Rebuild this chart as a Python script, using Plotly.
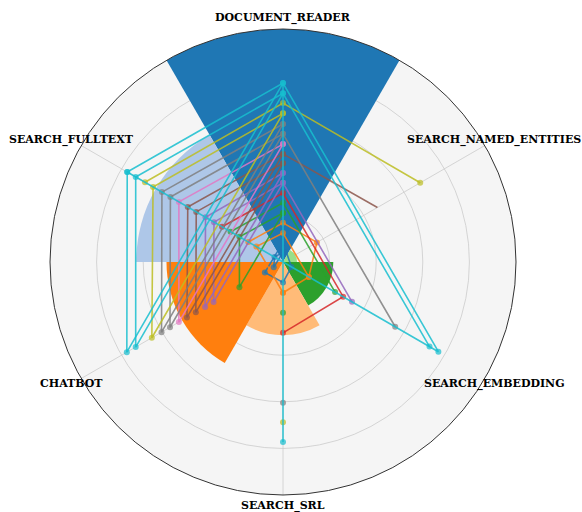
import plotly.graph_objects as go
import math

# ---------------- data ----------------
categories = ["DOCUMENT_READER", "SEARCH_NAMED_ENTITIES", "SEARCH_EMBEDDING",
              "SEARCH_SRL", "CHATBOT", "SEARCH_FULLTEXT"]
cat_codes = ["DR", "SNE", "SE", "SRL", "CB", "SF"]
cat_angles = [90, 30, 330, 270, 210, 150]

bar_values = [5.0, 0.3, 1.08, 1.57, 2.5, 3.15]
bar_colors = ["#1f77b4", "#98df8a", "#2ca02c", "#ffbb78", "#ff7f0e", "#aec7e8"]

# each series: path through categories ("O" = centre, None = break)
blue1_cats = ["DR", "SE", "SRL", "CB", "DR"]
blue1_vals = [0.42, 0.21, 0.44, 0.45, 0.42]
blue2_cats = ["DR", "SF", "CB", "DR"]
blue2_vals = [0.21, 0.21, 0.23, 0.21]
orange1_cats = ["SF", "DR", "SNE", "SE"]
orange1_vals = [0.86, 0.84, 0.84, 0.64]
orange2_cats = ["SRL", "SF", "DR", "SE", "SRL"]
orange2_vals = [0.66, 0.66, 0.62, 0.64, 0.66]
green1_cats = ["SF", "DR", "SE"]
green1_vals = [1.30, 1.27, 1.29]
green2_cats = ["DR", "SF", "CB", "DR", None, "SRL"]
green2_vals = [1.05, 1.08, 1.08, 1.05, None, 1.09]
red_cats = ["SF", "DR", "SE", "SRL"]
red_vals = [1.51, 1.48, 1.49, 1.52]
purple1_cats = ["DR", "SF", "CB", "DR"]
purple1_vals = [1.91, 1.92, 1.93, 1.91]
purple2_cats = ["SE", "DR", "SF", "CB", "DR"]
purple2_vals = [1.71, 1.70, 1.71, 1.72, 1.70]
brown1_cats = ["SNE", "DR", "SF", "CB", "DR"]
brown1_vals = [2.34, 2.32, 2.36, 2.38, 2.32]
brown2_cats = ["DR", "SF", "CB", "DR"]
brown2_vals = [2.12, 2.15, 2.16, 2.12]
pink_cats = ["DR", "SF", "CB", "DR"]
pink_vals = [2.53, 2.58, 2.58, 2.53]
gray1_cats = ["SRL", None, "DR", "SF", "CB", "DR"]
gray1_vals = [3.02, None, 2.96, 3.00, 3.01, 2.96]
gray2_cats = ["SE", "DR", "SF", "CB", "DR"]
gray2_vals = [2.78, 2.75, 2.79, 2.80, 2.75]
olive1_cats = ["SF", "DR", "SNE", None, "SRL"]
olive1_vals = [3.42, 3.41, 3.40, None, 3.44]
olive2_cats = ["DR", "SF", "CB", "DR"]
olive2_vals = [3.19, 3.22, 3.25, 3.19]
cyan2_cats = ["SE", "DR", "SF", "CB", "DR"]
cyan2_vals = [3.63, 3.62, 3.65, 3.65, 3.62]
cyan1_cats = ["SRL", "O", "SE", "DR", "SF", "CB", "DR", "O", "SF"]
cyan1_vals = [3.86, 0, 3.85, 3.84, 3.86, 3.87, 3.84, 0, 3.86]

series = [
    ("blue1", "#1f77b4", blue1_cats, blue1_vals),
    ("blue2", "#1f77b4", blue2_cats, blue2_vals),
    ("orange1", "#ff7f0e", orange1_cats, orange1_vals),
    ("orange2", "#ff7f0e", orange2_cats, orange2_vals),
    ("green1", "#2ca02c", green1_cats, green1_vals),
    ("green2", "#2ca02c", green2_cats, green2_vals),
    ("red", "#d62728", red_cats, red_vals),
    ("purple1", "#9467bd", purple1_cats, purple1_vals),
    ("purple2", "#9467bd", purple2_cats, purple2_vals),
    ("brown1", "#8c564b", brown1_cats, brown1_vals),
    ("brown2", "#8c564b", brown2_cats, brown2_vals),
    ("pink", "#e377c2", pink_cats, pink_vals),
    ("gray1", "#7f7f7f", gray1_cats, gray1_vals),
    ("gray2", "#7f7f7f", gray2_cats, gray2_vals),
    ("olive1", "#bcbd22", olive1_cats, olive1_vals),
    ("olive2", "#bcbd22", olive2_cats, olive2_vals),
    ("cyan2", "#17becf", cyan2_cats, cyan2_vals),
    ("cyan1", "#17becf", cyan1_cats, cyan1_vals),
]
hidden_points = {("brown1", 0)}


def rgba(hex_color, alpha):
    h = hex_color.lstrip("#")
    return "rgba(%d,%d,%d,%.2f)" % (int(h[0:2], 16), int(h[2:4], 16), int(h[4:6], 16), alpha)


# ---------------- figure ----------------
angle_of = dict(zip(cat_codes, cat_angles))
angle_of["O"] = 0

fig = go.Figure()
fig.add_trace(go.Barpolar(
    r=bar_values, theta=cat_angles, width=[60] * 6,
    marker=dict(color=bar_colors, line=dict(width=0)),
    opacity=1.0, showlegend=False, hoverinfo="skip"))

for name, color, cats, vals in series:
    th = [angle_of[c] if c is not None else None for c in cats]
    sizes = []
    for i, (c, v) in enumerate(zip(cats, vals)):
        if c is None or c == "O" or (name, i) in hidden_points:
            sizes.append(0)
        else:
            sizes.append(6)
    fig.add_trace(go.Scatterpolar(
        r=vals, theta=th, mode="lines+markers",
        line=dict(color=rgba(color, 0.85), width=1.6),
        marker=dict(color=color, size=sizes, line=dict(width=0)),
        showlegend=False, connectgaps=False, name=name))

annotations = []
for lab, ang in zip(categories, cat_angles):
    a = math.radians(ang)
    annotations.append(dict(
        text=lab, xref="paper", yref="paper",
        x=0.5 + 0.5 * 1.046 * math.cos(a), y=0.5 + 0.5 * 1.046 * math.sin(a),
        xanchor="center", yanchor="middle", showarrow=False,
        font=dict(family="DejaVu Serif", size=11, color="black", weight="bold")))

fig.update_layout(
    width=582, height=512,
    margin=dict(l=50, r=66, t=29, b=17),
    paper_bgcolor="white",
    showlegend=False,
    annotations=annotations,
    polar=dict(
        domain=dict(x=[0, 1], y=[0, 1]),
        bgcolor="#f5f5f5",
        bargap=0,
        radialaxis=dict(range=[0, 5], tickvals=[1, 2, 3, 4, 5], showticklabels=False,
                        ticks="", showline=False, gridcolor="rgba(200,200,200,0.75)",
                        gridwidth=1, layer="above traces"),
        angularaxis=dict(rotation=0, direction="counterclockwise", thetaunit="degrees",
                         tickmode="linear", tick0=30, dtick=60, showticklabels=False,
                         ticks="", gridcolor="rgba(200,200,200,0.75)", gridwidth=1,
                         showline=True, linecolor="#333333", linewidth=1,
                         layer="above traces"),
    ),
)

fig.write_html("out.html")
